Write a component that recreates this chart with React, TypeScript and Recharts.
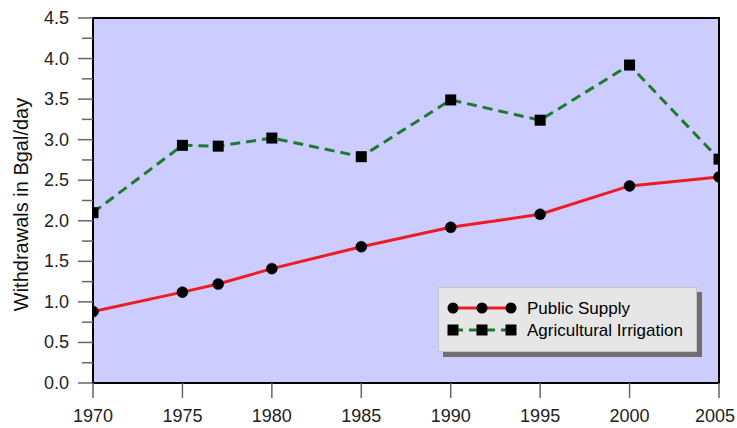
import {
  Legend,
  Line,
  LineChart,
  CartesianGrid,
  ReferenceArea,
  XAxis,
  YAxis
} from 'recharts';

const years = [1970, 1975, 1977, 1980, 1985, 1990, 1995, 2000, 2005];
const publicSupply = [0.88, 1.12, 1.22, 1.41, 1.68, 1.92, 2.08, 2.43, 2.54];
const agriculturalIrrigation = [2.1, 2.93, 2.92, 3.02, 2.79, 3.49, 3.24, 3.92, 2.76];

const xTicks = [1970, 1975, 1980, 1985, 1990, 1995, 2000, 2005];
const yTicks = [
  0, 0.25, 0.5, 0.75, 1, 1.25, 1.5, 1.75, 2, 2.25, 2.5, 2.75, 3, 3.25, 3.5, 3.75, 4, 4.25, 4.5
];

const RED = '#ec1c24';
const GREEN = '#1c7a30';
const FONT = '"Liberation Sans", Arial, sans-serif';

const data = years.map((year, i) => ({
  year,
  publicSupply: publicSupply[i],
  agriculturalIrrigation: agriculturalIrrigation[i]
}));

// y ticks: long lines with labels on the half units, short ones between
const YTick = (props: any) => {
  const { x, y, payload } = props;
  const major = Math.abs(payload.value * 2 - Math.round(payload.value * 2)) < 1e-6;
  return (
    <g>
      <line x1={x - (major ? 15 : 11)} x2={x} y1={y} y2={y} stroke="#666" strokeWidth={1.5} />
      {major && (
        <text x={x - 24} y={y} textAnchor="end" dominantBaseline="central" fontSize={18} fill="#222">
          {payload.value.toFixed(1)}
        </text>
      )}
    </g>
  );
};

// last label would run past the page edge, so keep it inside
const XTick = (props: any) => {
  const { x, y, payload } = props;
  return (
    <g>
      <line x1={x} x2={x} y1={y} y2={y + 15} stroke="#666" strokeWidth={1.5} />
      <text x={Math.min(x, 715)} y={y + 26} dy="0.71em" textAnchor="middle" fontSize={18} fill="#222">
        {payload.value}
      </text>
    </g>
  );
};

const SquareDot = (props: any) => {
  const { cx, cy, index } = props;
  if (cx == null || cy == null) return null;
  return <rect key={`sq-${index}`} x={cx - 5.5} y={cy - 5.5} width={11} height={11} fill="#000" />;
};

const YLabel = (props: any) => {
  const vb = props.viewBox || { y: 18, height: 365 };
  const cy = vb.y + vb.height / 2 + 4;
  return (
    <text
      x={21}
      y={cy}
      transform={`rotate(-90, 21, ${cy})`}
      textAnchor="middle"
      dominantBaseline="central"
      fontSize={20}
      fill="#111"
    >
      Withdrawals in Bgal/day
    </text>
  );
};

const LegendBox = () => (
  <div
    style={{
      width: 259,
      height: 65,
      boxSizing: 'border-box',
      background: '#e6e6e6',
      border: '1px solid #c4c4c4',
      boxShadow: '5px 5px 0 #6f6f6f',
      fontFamily: FONT,
      fontSize: 17,
      color: '#111'
    }}
  >
    <svg width={259} height={63} style={{ position: 'absolute', left: 0, top: 0 }}>
      <line x1={15} x2={73} y1={21} y2={21} stroke={RED} strokeWidth={3} />
      {[15, 44, 73].map((cx) => (
        <circle key={cx} cx={cx} cy={21} r={5.5} fill="#000" />
      ))}
      <line x1={15} x2={73} y1={43} y2={43} stroke={GREEN} strokeWidth={3} strokeDasharray="10 6" />
      {[15, 44, 73].map((cx) => (
        <rect key={cx} x={cx - 5.5} y={37.5} width={11} height={11} fill="#000" />
      ))}
      <text x={89} y={21} dominantBaseline="central">Public Supply</text>
      <text x={89} y={43} dominantBaseline="central">Agricultural Irrigation</text>
    </svg>
  </div>
);

export default function App() {
  return (
    <div style={{ position: 'absolute', left: 0, top: 0, fontFamily: FONT, background: '#fff' }}>
      <LineChart width={737} height={428} data={data} margin={{ top: 18, right: 18, bottom: 0, left: 0 }}>
        <CartesianGrid horizontal={false} vertical={false} fill="#ccccff" fillOpacity={1} />
        <XAxis
          dataKey="year"
          type="number"
          domain={[1970, 2005]}
          ticks={xTicks}
          height={45}
          axisLine={false}
          tickLine={false}
          tickSize={0}
          tickMargin={0}
          tick={<XTick />}
          interval={0}
          allowDataOverflow
        />
        <YAxis
          type="number"
          domain={[0, 4.5]}
          ticks={yTicks}
          width={93}
          axisLine={false}
          tickLine={false}
          tickSize={0}
          tickMargin={0}
          tick={<YTick />}
          interval={0}
          label={{ content: <YLabel /> }}
          allowDataOverflow
        />
        <ReferenceArea
          x1={1970}
          x2={2005}
          y1={0}
          y2={4.5}
          fill="none"
          stroke="#000"
          strokeWidth={2}
          ifOverflow="visible"
        />
        <Legend
          layout="horizontal"
          align="center"
          verticalAlign="middle"
          wrapperStyle={{ left: 438, top: 287, width: 259, height: 65 }}
          content={<LegendBox />}
        />
        <Line
          dataKey="agriculturalIrrigation"
          stroke={GREEN}
          strokeWidth={3}
          strokeDasharray="10 6"
          dot={<SquareDot />}
          activeDot={false}
          isAnimationActive={false}
        />
        <Line
          dataKey="publicSupply"
          stroke={RED}
          strokeWidth={3}
          dot={{ r: 5.5, fill: '#000', stroke: '#000', strokeWidth: 0.5 }}
          activeDot={false}
          isAnimationActive={false}
        />
      </LineChart>
    </div>
  );
}
